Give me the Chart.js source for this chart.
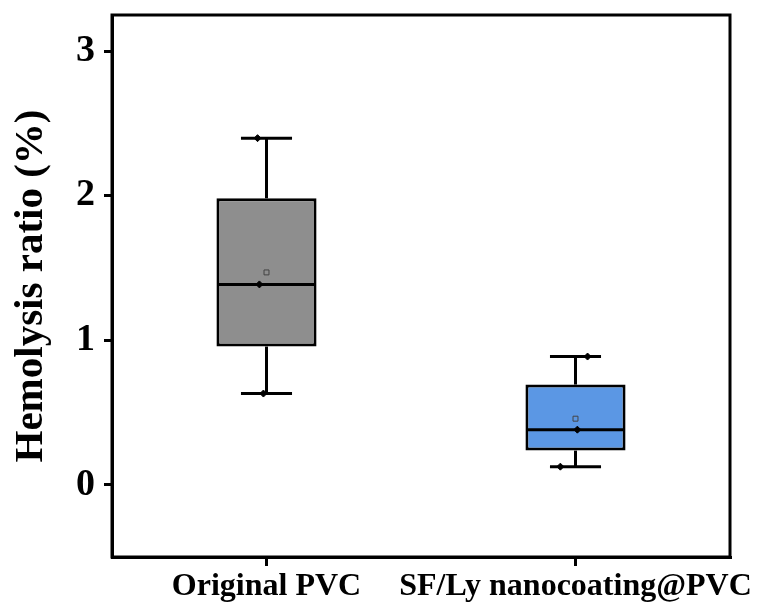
<!DOCTYPE html>
<html><head><meta charset="utf-8">
<script src="https://cdn.jsdelivr.net/npm/chart.js@4"></script>
<style>html,body{margin:0;padding:0;background:#fff;}canvas{display:block;}</style>
</head><body>
<canvas id="c" width="758" height="608"></canvas>
<script>
const categories = ['Original PVC', 'SF/Ly nanocoating@PVC'];
const q1 = [0.956, 0.236];
const q3 = [1.982, 0.693];
const medians = [1.386, 0.381];
const whiskerMin = [0.631, 0.125];
const whiskerMax = [2.398, 0.887];
const means = [1.469, 0.457];
const pointsOriginal = [2.398, 1.386, 0.631];
const pointsCoated = [0.887, 0.381, 0.125];
const jitterOriginal = [-0.029, -0.023, -0.010];
const jitterCoated = [0.039, 0.006, -0.049];
const yTicks = [0, 1, 2, 3];
const boxColors = ['#8e8e8e', '#5b97e4'];

const FONT = "'Liberation Serif', 'Times New Roman', serif";

const boxData = categories.map((c, i) => [q1[i], q3[i]]);
const pointData = [];
pointsOriginal.forEach((v, i) => pointData.push({x: 0 + jitterOriginal[i], y: v}));
pointsCoated.forEach((v, i) => pointData.push({x: 1 + jitterCoated[i], y: v}));
const meanData = means.map((m, i) => ({x: i, y: m}));

const boxDetails = {
  id: 'boxDetails',
  afterDatasetDraw(chart, args) {
    if (args.index !== 0) return;
    const ctx = chart.ctx, ys = chart.scales.y;
    const meta = chart.getDatasetMeta(0);
    meta.data.forEach((bar, i) => {
      const cx = bar.x, half = bar.width / 2, capHalf = half * 0.51;
      const line = (x1, y1, x2, y2) => { ctx.beginPath(); ctx.moveTo(x1, y1); ctx.lineTo(x2, y2); ctx.stroke(); };
      ctx.save();
      ctx.strokeStyle = '#000'; ctx.lineWidth = 3; ctx.lineCap = 'butt';
      const pQ3 = ys.getPixelForValue(q3[i]), pQ1 = ys.getPixelForValue(q1[i]);
      const pMax = ys.getPixelForValue(whiskerMax[i]), pMin = ys.getPixelForValue(whiskerMin[i]);
      const pMed = ys.getPixelForValue(medians[i]);
      line(cx, pQ3, cx, pMax);
      line(cx, pQ1, cx, pMin);
      line(cx - capHalf, pMax, cx + capHalf, pMax);
      line(cx - capHalf, pMin, cx + capHalf, pMin);
      line(cx - half + 1, pMed, cx + half - 1, pMed);
      ctx.restore();
    });
  },
  afterDraw(chart) {
    const {ctx, chartArea: a} = chart;
    ctx.save();
    ctx.strokeStyle = '#000'; ctx.lineWidth = 3;
    ctx.strokeRect(a.left, a.top, a.right - a.left, a.bottom - a.top);
    ctx.restore();
  }
};

new Chart(document.getElementById('c'), {
  data: {
    labels: categories,
    datasets: [
      {
        type: 'bar', data: boxData, xAxisID: 'x', yAxisID: 'y', grouped: false,
        backgroundColor: boxColors, borderColor: '#000', borderWidth: 3,
        borderSkipped: false, categoryPercentage: 1, barPercentage: 0.324, order: 3
      },
      {
        type: 'scatter', data: meanData, xAxisID: 'x2', yAxisID: 'y',
        pointStyle: 'rect', radius: 3.5, backgroundColor: 'rgba(0,0,0,0)',
        borderColor: '#444', borderWidth: 1, order: 2
      },
      {
        type: 'scatter', data: pointData, xAxisID: 'x2', yAxisID: 'y',
        pointStyle: 'rectRot', radius: 3.5, backgroundColor: '#000',
        borderColor: '#000', borderWidth: 1, order: 1
      }
    ]
  },
  options: {
    responsive: false, animation: false, devicePixelRatio: 1,
    layout: {padding: {top: 15, right: 28, left: 0, bottom: 0}},
    plugins: {legend: {display: false}, tooltip: {enabled: false}},
    scales: {
      x: {
        type: 'category', position: 'bottom', offset: true,
        grid: {display: true, offset: false, drawOnChartArea: false, drawTicks: true, tickLength: 9,
               color: c => (c.index < categories.length ? '#000' : 'rgba(0,0,0,0)'), lineWidth: 3},
        border: {display: true, color: '#000', width: 3},
        ticks: {color: '#000', font: {family: FONT, size: 32, weight: 'bold'}, padding: 2, maxRotation: 0, minRotation: 0, autoSkip: false},
        afterFit(s) { s.height = 51; s.paddingLeft = 0; s.paddingRight = 0; }
      },
      x2: {
        type: 'linear', position: 'bottom', display: false, min: -0.5, max: 1.5
      },
      y: {
        type: 'linear', position: 'left', min: -0.5, max: 3.25,
        afterBuildTicks(s) { s.ticks = yTicks.map(v => ({value: v})); },
        grid: {display: true, drawOnChartArea: false, drawTicks: true, tickLength: 8, color: '#000', lineWidth: 3},
        border: {display: true, color: '#000', width: 3},
        ticks: {color: '#000', font: {family: FONT, size: 38, weight: 'bold'}, padding: 9, callback: v => String(v)},
        title: {display: true, text: 'Hemolysis ratio (%)', color: '#000', font: {family: FONT, size: 41, weight: 'bold'}, padding: {top: 7, bottom: 0}},
        afterFit(s) { s.width = 112; s.paddingTop = 0; s.paddingBottom = 0; }
      }
    }
  },
  plugins: [boxDetails]
});
</script>
</body></html>
